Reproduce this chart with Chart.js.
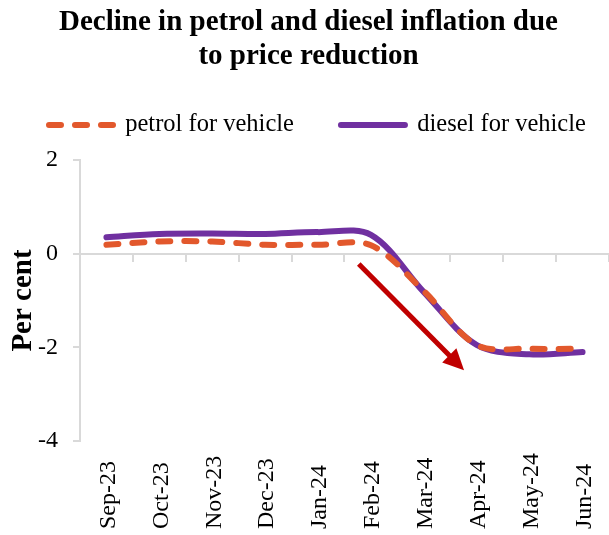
<!DOCTYPE html>
<html>
<head>
<meta charset="utf-8">
<script src="https://cdn.jsdelivr.net/npm/chart.js@4/dist/chart.umd.min.js"></script>
<style>
  html, body { margin: 0; padding: 0; background: #ffffff; }
  #wrap { width: 609px; height: 535px; position: relative; }
</style>
</head>
<body>
<div id="wrap"><canvas id="c" width="609" height="535"></canvas></div>
<script>
const categories = ["Sep-23", "Oct-23", "Nov-23", "Dec-23", "Jan-24", "Feb-24", "Mar-24", "Apr-24", "May-24", "Jun-24"];
const petrolValues = [0.19, 0.26, 0.26, 0.19, 0.19, 0.18, -0.80, -1.95, -2.03, -2.03];
const dieselValues = [0.35, 0.42, 0.43, 0.42, 0.46, 0.40, -0.82, -1.95, -2.15, -2.10];
const yTicks = [2, 0, -2, -4];
const seriesNames = ["petrol for vehicle", "diesel for vehicle"];
const titleLines = ["Decline in petrol and diesel inflation due", "to price reduction"];
const yTitle = "Per cent";
// arrow annotation in data units: [category index, value]
const arrowFrom = [4.77, -0.22];
const arrowTo = [6.76, -2.49];

const FONT = "'Liberation Serif', 'Times New Roman', serif";
const LEGEND_EXTRA = 12.75;

const arrowPlugin = {
  id: 'arrow',
  afterDatasetsDraw(chart) {
    const xs = chart.scales.x, ys = chart.scales.y;
    const x1 = xs.getPixelForValue(arrowFrom[0]), y1 = ys.getPixelForValue(arrowFrom[1]);
    const x2 = xs.getPixelForValue(arrowTo[0]), y2 = ys.getPixelForValue(arrowTo[1]);
    const ang = Math.atan2(y2 - y1, x2 - x1);
    const headLen = 21, headHalf = 10;
    const bx = x2 - headLen * Math.cos(ang), by = y2 - headLen * Math.sin(ang);
    const ctx = chart.ctx;
    ctx.save();
    ctx.strokeStyle = '#C00000';
    ctx.fillStyle = '#C00000';
    ctx.lineWidth = 5;
    ctx.lineCap = 'butt';
    ctx.beginPath();
    ctx.moveTo(x1, y1);
    ctx.lineTo(bx + 2 * Math.cos(ang), by + 2 * Math.sin(ang));
    ctx.stroke();
    ctx.beginPath();
    ctx.moveTo(x2, y2);
    ctx.lineTo(bx + headHalf * Math.sin(ang), by - headHalf * Math.cos(ang));
    ctx.lineTo(bx - headHalf * Math.sin(ang), by + headHalf * Math.cos(ang));
    ctx.closePath();
    ctx.fill();
    ctx.restore();
  }
};

// category labels, rotated and aligned at the bottom like the original
const xLabelPlugin = {
  id: 'xLabels',
  afterDraw(chart) {
    const xs = chart.scales.x;
    const ctx = chart.ctx;
    ctx.save();
    ctx.fillStyle = '#000000';
    ctx.font = "24px " + FONT;
    ctx.textAlign = 'left';
    ctx.textBaseline = 'middle';
    categories.forEach((lab, i) => {
      const px = xs.getPixelForTick(i);
      ctx.save();
      ctx.translate(px + 2, xs.bottom - 6);
      ctx.rotate(-Math.PI / 2);
      ctx.fillText(lab, 0, 0);
      ctx.restore();
    });
    ctx.restore();
  }
};

// keep the legend on a single row and leave a little room below it
const legendFitPlugin = {
  id: 'legendFit',
  beforeUpdate(chart) {
    const lg = chart.legend;
    if (lg && !lg.__patched) {
      const origUpdate = lg.update;
      lg.update = function (maxWidth, maxHeight, margins) {
        origUpdate.call(this, maxWidth + 200, maxHeight, margins);
        this.height += LEGEND_EXTRA;
      };
      const origDraw = lg.draw;
      lg.draw = function () {
        const r = this.right;
        this.right = r + 200;
        origDraw.call(this);
        this.right = r;
      };
      lg.__patched = true;
    }
  }
};

new Chart(document.getElementById('c'), {
  type: 'line',
  data: {
    labels: categories,
    datasets: [
      {
        label: seriesNames[0],
        data: petrolValues,
        borderColor: '#E2582C',
        backgroundColor: '#E2582C',
        borderWidth: 6,
        borderDash: [12, 14],
        borderCapStyle: 'round',
        pointRadius: 0,
        pointHoverRadius: 0,
        tension: 0.33,
        fill: false
      },
      {
        label: seriesNames[1],
        data: dieselValues,
        borderColor: '#7030A0',
        backgroundColor: '#7030A0',
        borderWidth: 6,
        borderCapStyle: 'round',
        pointRadius: 0,
        pointHoverRadius: 0,
        tension: 0.33,
        fill: false
      }
    ]
  },
  options: {
    responsive: false,
    animation: false,
    layout: { padding: { left: 2, right: -6, top: 0, bottom: 0 } },
    plugins: {
      title: {
        display: true,
        text: titleLines,
        color: '#000000',
        font: { family: FONT, size: 29, weight: 'bold', lineHeight: 1.2 },
        padding: { top: 4.8, bottom: -8.65 }
      },
      legend: {
        display: true,
        position: 'top',
        align: 'start',
        labels: {
          color: '#000000',
          font: { family: FONT, size: 24.5 },
          usePointStyle: true,
          pointStyle: 'line',
          pointStyleWidth: 64,
          padding: 47,
          generateLabels(chart) {
            const items = Chart.defaults.plugins.legend.labels.generateLabels(chart);
            items.forEach((it, i) => {
              const ds = chart.data.datasets[i];
              it.lineDash = ds.borderDash || [];
              it.lineCap = 'round';
              it.strokeStyle = ds.borderColor;
              it.fillStyle = ds.borderColor;
              it.lineWidth = ds.borderWidth;
              it.pointStyle = 'line';
            });
            return items;
          }
        }
      },
      tooltip: { enabled: false }
    },
    scales: {
      x: {
        type: 'category',
        position: 'bottom',
        offset: true,
        grid: { display: false, drawTicks: false },
        border: { display: false },
        ticks: { display: false },
        afterFit(scale) {
          scale.height = 94;
          scale.paddingLeft = 0;
          scale.paddingRight = 0;
        }
      },
      x2: {
        type: 'category',
        axis: 'x',
        position: { y: 0 },
        offset: true,
        grid: {
          display: true,
          offset: true,
          drawOnChartArea: false,
          drawTicks: true,
          tickLength: 7,
          color: '#D9D9D9',
          lineWidth: 2
        },
        border: { display: true, color: '#D9D9D9', width: 2 },
        ticks: { display: false }
      },
      y: {
        min: -4,
        max: 2,
        afterBuildTicks(scale) { scale.ticks = yTicks.map(v => ({ value: v })); },
        grid: {
          display: true,
          drawOnChartArea: false,
          drawTicks: true,
          tickLength: 7,
          color: '#D9D9D9',
          lineWidth: 2
        },
        border: { display: true, color: '#D9D9D9', width: 2 },
        ticks: {
          color: '#000000',
          font: { family: FONT, size: 24 },
          padding: 15
        },
        title: {
          display: true,
          text: yTitle,
          color: '#000000',
          font: { family: FONT, size: 29, weight: 'bold', lineHeight: 1.2 },
          padding: { top: 4.6, bottom: -18.4 }
        }
      }
    }
  },
  plugins: [legendFitPlugin, arrowPlugin, xLabelPlugin]
});
</script>
</body>
</html>
